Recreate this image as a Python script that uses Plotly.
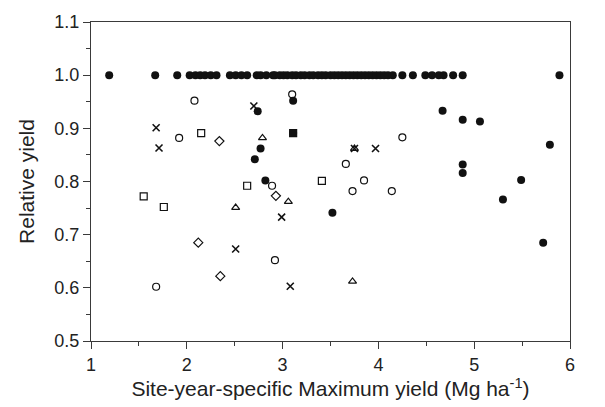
import plotly.graph_objects as go

# Site-year maximum yield (Mg ha-1) and relative yield, one pair of lists per group
dot_x = [1.19, 1.67, 1.90, 2.03, 2.09, 2.14, 2.19, 2.25, 2.31, 2.45, 2.51, 2.57, 2.63,
         2.73, 2.77, 2.83, 2.90, 2.92, 2.97, 3.01, 3.05, 3.10, 3.14, 3.19, 3.23, 3.28,
         3.32, 3.37, 3.41, 3.45, 3.50, 3.54, 3.58, 3.62, 3.66, 3.70, 3.74, 3.78, 3.82,
         3.86, 3.90, 3.94, 3.98, 4.02, 4.06, 4.10, 4.15, 4.25, 4.36, 4.49, 4.56, 4.63,
         4.68, 4.78, 4.88, 5.89,
         2.74, 3.11, 3.11, 2.77, 2.71, 2.82, 3.52, 4.67, 4.88, 5.06, 4.88, 4.88, 5.79,
         5.49, 5.30, 5.72]
dot_y = [1.0] * 56 + [0.932, 0.952, 0.891, 0.862, 0.842, 0.802, 0.741, 0.933, 0.916,
                      0.913, 0.832, 0.816, 0.869, 0.803, 0.766, 0.685]

circle_x = [2.08, 1.92, 3.10, 2.89, 3.66, 3.73, 3.85, 4.14, 4.25, 2.92, 1.68]
circle_y = [0.952, 0.882, 0.964, 0.792, 0.833, 0.782, 0.802, 0.782, 0.883, 0.652, 0.602]

cross_x = [1.68, 1.71, 2.70, 3.75, 3.97, 2.51, 2.99, 3.08]
cross_y = [0.901, 0.863, 0.942, 0.862, 0.862, 0.673, 0.733, 0.603]

square_x = [1.55, 1.76, 2.15, 2.63, 3.41, 3.11]
square_y = [0.772, 0.752, 0.891, 0.792, 0.801, 0.891]

diamond_x = [2.34, 2.12, 2.35, 2.93]
diamond_y = [0.876, 0.685, 0.622, 0.773]

triangle_x = [2.79, 2.51, 3.06, 3.73, 3.75]
triangle_y = [0.882, 0.751, 0.762, 0.612, 0.862]

x_ticks = [1, 2, 3, 4, 5, 6]
y_ticks = [0.5, 0.6, 0.7, 0.8, 0.9, 1.0, 1.1]

INK = "#111111"
AXIS = "#3a3a3a"

fig = go.Figure()


def add_group(xs, ys, symbol, size, width=1.2):
    fig.add_trace(go.Scatter(
        x=xs, y=ys, mode="markers", showlegend=False,
        marker=dict(symbol=symbol, size=size, color=INK,
                    line=dict(color=INK, width=width)),
    ))


add_group(square_x, square_y, "square-open", 7)
add_group(diamond_x, diamond_y, "diamond-open", 7)
add_group(triangle_x, triangle_y, "triangle-up-open", 7)
add_group(circle_x, circle_y, "circle-open", 7)
add_group(cross_x, cross_y, "x-thin-open", 7, 1.6)
add_group(dot_x, dot_y, "circle", 8, 0)

font_family = "Liberation Sans, Arial, sans-serif"

axis_common = dict(
    showline=True, linecolor=AXIS, linewidth=1, mirror=True,
    ticks="outside", ticklen=7, tickwidth=1, tickcolor=AXIS,
    showgrid=False, zeroline=False,
    tickfont=dict(family=font_family, size=18, color="#222222"),
)

fig.update_xaxes(
    range=[1, 6], tickvals=x_ticks,
    minor=dict(dtick=0.5, ticks="outside", ticklen=4, tickcolor=AXIS, tick0=1),
    title=dict(text="Site-year-specific Maximum yield (Mg ha<sup>-1</sup>)",
               font=dict(family=font_family, size=21, color="#222222"), standoff=6),
    **axis_common,
)
fig.update_yaxes(
    range=[0.5, 1.1], tickvals=y_ticks, tickformat=".1f",
    minor=dict(dtick=0.05, ticks="outside", ticklen=4, tickcolor=AXIS, tick0=0.5),
    title=dict(text="Relative yield",
               font=dict(family=font_family, size=21, color="#222222"), standoff=14),
    **axis_common,
)

fig.update_layout(
    width=605, height=407,
    margin=dict(l=91, r=35, t=15, b=65),
    paper_bgcolor="white", plot_bgcolor="white",
)

fig.write_html("out.html")
